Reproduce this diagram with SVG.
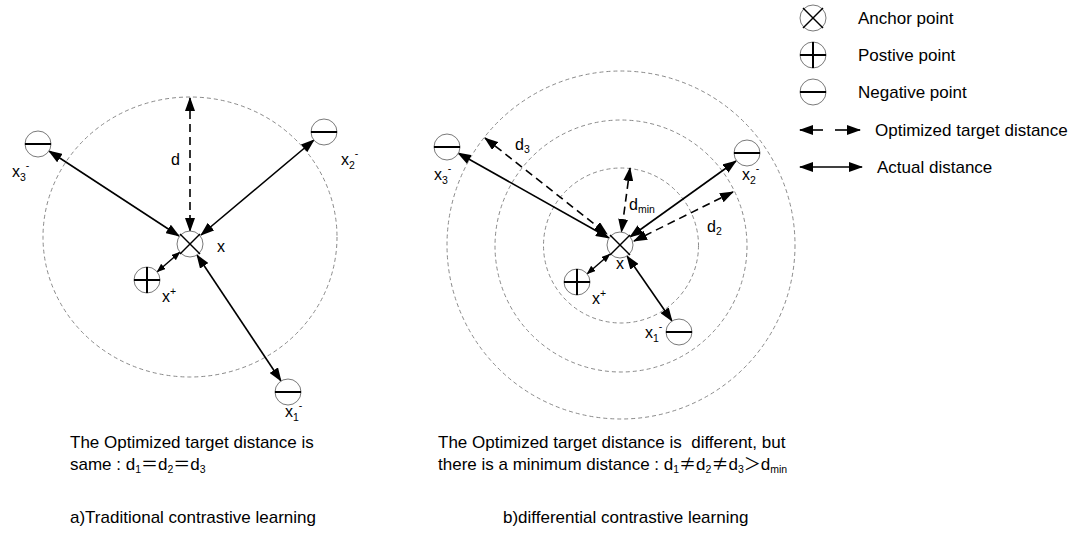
<svg xmlns="http://www.w3.org/2000/svg" width="1069" height="536" viewBox="0 0 1069 536">
<style>
.ring{fill:none;stroke:#8a8a8a;stroke-width:1;stroke-dasharray:4 3}
.node{fill:#fff;stroke:#7a7a7a;stroke-width:1}
.bar{stroke:#000;stroke-width:2}
.xl{stroke:#000;stroke-width:1.4}
.sol{fill:none;stroke:#000;stroke-width:1.6;marker-start:url(#ah);marker-end:url(#ah)}
.dsh{fill:none;stroke:#000;stroke-width:1.6;stroke-dasharray:8 5;marker-start:url(#ah);marker-end:url(#ah)}
.sm{fill:none;stroke:#000;stroke-width:1.4;marker-start:url(#as);marker-end:url(#as)}
.one{fill:none;stroke:#000;stroke-width:1.6;marker-end:url(#ah)}
text{font-family:"Liberation Sans",Arial,"Noto Sans CJK SC",sans-serif;fill:#000}
.lab{font-size:16px}
.leg{font-size:17px}
.cap{font-size:17px;white-space:pre}
.sub{font-size:10.5px}
.cjk{font-family:"Noto Sans CJK SC",sans-serif}
</style>
<defs>
<marker id="ah" markerUnits="userSpaceOnUse" viewBox="0 0 14 10" markerWidth="14" markerHeight="10" refX="13" refY="5" orient="auto-start-reverse"><path d="M0,0 L14,5 L0,10 z" fill="#000"/></marker>
<marker id="as" markerUnits="userSpaceOnUse" viewBox="0 0 9 7" markerWidth="9" markerHeight="7" refX="8.5" refY="3.5" orient="auto-start-reverse"><path d="M0,0 L9,3.5 L0,7 z" fill="#000"/></marker>
<g id="neg"><circle class="node" r="13"/><line class="bar" x1="-13" y1="0" x2="13" y2="0"/></g>
<g id="pos"><circle class="node" r="13"/><line class="bar" x1="-13" y1="0" x2="13" y2="0"/><line class="bar" x1="0" y1="-13" x2="0" y2="13"/></g>
<g id="anc"><circle class="node" r="13"/><line class="xl" x1="-10" y1="-10" x2="10" y2="10"/><line class="xl" x1="10" y1="-10" x2="-10" y2="10"/></g>
</defs>

<!-- Left diagram -->
<g id="left-ring"><ellipse class="ring" cx="190" cy="237" rx="147" ry="140"/></g>
<g id="left-connectors">
<line class="dsh" x1="190" y1="98" x2="190" y2="231"/>
<line class="sol" x1="49" y1="151" x2="179" y2="236"/>
<line class="sol" x1="314" y1="140" x2="201" y2="235"/>
<line class="sol" x1="281" y1="381" x2="197" y2="255"/>
<line class="sm" x1="157" y1="272" x2="180" y2="252"/>
</g>
<g id="left-anchor"><use href="#anc" x="190" y="244"/><text class="lab" x="217" y="252">x</text></g>
<g id="left-pos"><use href="#pos" x="147" y="280"/><text class="lab" x="162" y="302">x<tspan class="sub" dy="-7">+</tspan></text></g>
<g id="left-x3"><use href="#neg" x="38" y="144"/><text class="lab" x="12" y="177">x<tspan class="sub" dy="4">3</tspan><tspan class="sub" dy="-12">-</tspan></text></g>
<g id="left-x2"><use href="#neg" x="324" y="132"/><text class="lab" x="341" y="165">x<tspan class="sub" dy="4">2</tspan><tspan class="sub" dy="-12">-</tspan></text></g>
<g id="left-x1"><use href="#neg" x="288" y="392"/><text class="lab" x="285" y="417">x<tspan class="sub" dy="4">1</tspan><tspan class="sub" dy="-12">-</tspan></text></g>
<g id="left-d"><text class="lab" x="171" y="165">d</text></g>

<!-- Right diagram -->
<g id="right-rings">
<circle class="ring" cx="621" cy="245" r="174"/>
<circle class="ring" cx="621" cy="246" r="126"/>
<circle class="ring" cx="621" cy="245.5" r="77.5"/>
</g>
<g id="right-connectors">
<line class="sol" x1="458" y1="153" x2="609" y2="238"/>
<line class="dsh" x1="485" y1="138" x2="607" y2="234"/>
<line class="dsh" x1="630" y1="168" x2="621.5" y2="232"/>
<line class="sol" x1="736" y1="161" x2="630" y2="237"/>
<line class="dsh" x1="733" y1="192" x2="634" y2="241"/>
<line class="sol" x1="672" y1="321" x2="627" y2="256"/>
<line class="sm" x1="587" y1="274" x2="610" y2="254"/>
</g>
<g id="right-anchor"><use href="#anc" x="620" y="245"/><text class="lab" x="616" y="269">x</text></g>
<g id="right-pos"><use href="#pos" x="577" y="282"/><text class="lab" x="592" y="304">x<tspan class="sub" dy="-7">+</tspan></text></g>
<g id="right-x3"><use href="#neg" x="447" y="147"/><text class="lab" x="434" y="180">x<tspan class="sub" dy="4">3</tspan><tspan class="sub" dy="-12">-</tspan></text></g>
<g id="right-x2"><use href="#neg" x="747" y="153"/><text class="lab" x="742" y="180">x<tspan class="sub" dy="4">2</tspan><tspan class="sub" dy="-12">-</tspan></text></g>
<g id="right-x1"><use href="#neg" x="679" y="332"/><text class="lab" x="645" y="338">x<tspan class="sub" dy="4">1</tspan><tspan class="sub" dy="-12">-</tspan></text></g>
<g id="right-d3"><text class="lab" x="515" y="150">d<tspan class="sub" dy="3">3</tspan></text></g>
<g id="right-dmin"><text class="lab" x="629" y="210">d<tspan class="sub" dy="3">min</tspan></text></g>
<g id="right-d2"><text class="lab" x="707" y="232">d<tspan class="sub" dy="3">2</tspan></text></g>

<!-- Legend -->
<g id="legend-anchor"><use href="#anc" x="813" y="18"/><text class="leg" x="858" y="24">Anchor point</text></g>
<g id="legend-pos"><use href="#pos" x="813" y="55"/><text class="leg" x="858" y="61">Postive point</text></g>
<g id="legend-neg"><use href="#neg" x="813" y="92"/><text class="leg" x="858" y="98">Negative point</text></g>
<g id="legend-dashed">
<line class="one" x1="823" y1="130" x2="800" y2="130"/>
<line class="one" x1="835" y1="130" x2="860" y2="130"/>
<text class="leg" x="875" y="136">Optimized target distance</text>
</g>
<g id="legend-solid">
<line class="sol" x1="800" y1="167" x2="862" y2="167"/>
<text class="leg" x="877" y="173">Actual distance</text>
</g>

<!-- Captions -->
<g id="captions">
<text class="cap" x="70" y="448">The Optimized target distance is</text>
<text class="cap" x="70" y="470">same : d<tspan class="sub" dy="3">1</tspan><tspan class="cjk" dy="-3">＝</tspan>d<tspan class="sub" dy="3">2</tspan><tspan class="cjk" dy="-3">＝</tspan>d<tspan class="sub" dy="3">3</tspan></text>
<text class="cap" x="70" y="523">a)Traditional contrastive learning</text>
<text class="cap" x="438" y="448">The Optimized target distance is  different, but</text>
<text class="cap" x="438" y="470">there is a minimum distance : d<tspan class="sub" dy="3">1</tspan><tspan class="cjk" dy="-3">≠</tspan>d<tspan class="sub" dy="3">2</tspan><tspan class="cjk" dy="-3">≠</tspan>d<tspan class="sub" dy="3">3</tspan><tspan class="cjk" dy="-3">＞</tspan>d<tspan class="sub" dy="3">min</tspan></text>
<text class="cap" x="503" y="523">b)differential contrastive learning</text>
</g>
</svg>
